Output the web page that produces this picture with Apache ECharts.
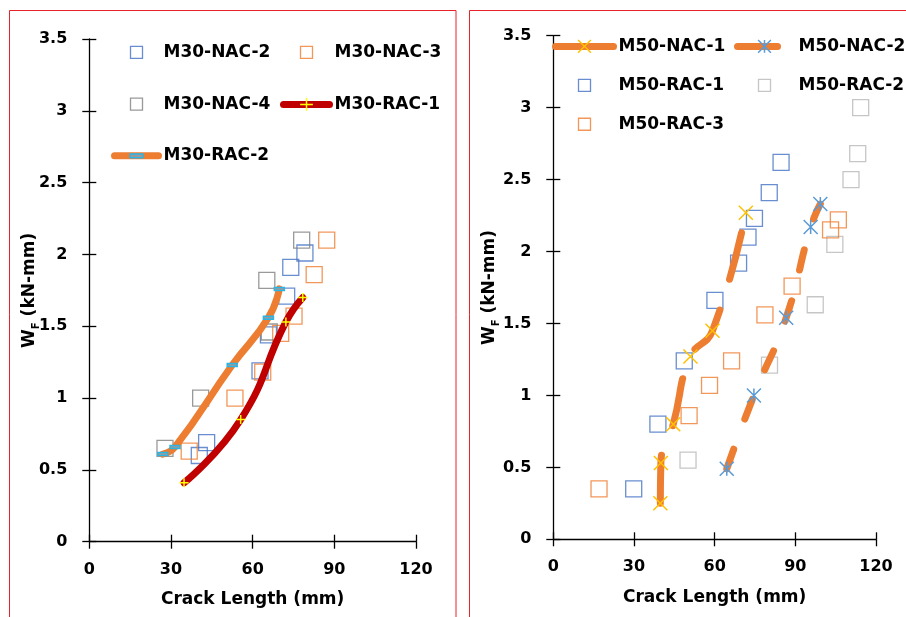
<!DOCTYPE html>
<html>
<head>
<meta charset="utf-8">
<script src="https://cdn.jsdelivr.net/npm/echarts@6/dist/echarts.min.js"></script>
<style>
  html, body { margin: 0; padding: 0; background: #fff; }
  #chart { width: 906px; height: 617px; }
</style>
</head>
<body>
<div id="chart"></div>
<script>
// axis ranges / ticks
const xMax = 120, xStep = 30
const yMax = 3.5, yStep = 0.5

// M30 panel (left) : [crack length mm, W_F kN-mm]
const m30Nac2 = [[40.4,0.60],[43.1,0.69],[62.7,1.19],[65.8,1.44],[72.5,1.71],[74.0,1.91],[79.2,2.01]]
const m30Nac3 = [[36.7,0.63],[53.5,1.00],[63.7,1.18],[70.3,1.45],[75.2,1.57],[82.6,1.86],[87.2,2.10]]
const m30Nac4 = [[27.8,0.65],[40.9,1.00],[65.2,1.82],[66.1,1.46],[78.0,2.10]]
const m30Rac1 = [[34.8,0.41],[55.6,0.85],[72.2,1.53],[78.4,1.70]]
const m30Rac2 = [[27.0,0.61],[31.5,0.66],[52.5,1.23],[65.8,1.56],[69.8,1.76]]

// M50 panel (right)
const m50Nac1 = [[39.8,0.25],[40.0,0.53],[44.6,0.80],[51.0,1.27],[59.2,1.45],[71.6,2.27]]
const m50Nac2 = [[64.5,0.49],[74.6,1.00],[86.6,1.54],[95.7,2.17],[99.3,2.33]]
const m50Rac1 = [[29.9,0.35],[38.9,0.80],[48.7,1.24],[60.1,1.66],[68.9,1.92],[72.4,2.10],[74.8,2.23],[80.3,2.41],[84.7,2.62]]
const m50Rac2 = [[50.1,0.55],[80.4,1.21],[97.4,1.63],[104.7,2.05],[110.7,2.50],[113.2,2.68],[114.3,3.00]]
const m50Rac3 = [[17.0,0.35],[50.5,0.86],[58.1,1.07],[66.3,1.24],[78.7,1.56],[88.8,1.76],[103.1,2.15],[106.0,2.22]]

const FONT = 'DejaVu Sans'
const BLUE = '#4472c4', ORANGE = '#ed7d31', DARKRED = '#c00000'
const GRAY_D = '#808080', GRAY_L = '#b8b8b8'

const squareIcon = 'path://M0,0M16,16M2,2h12v12h-12z'
const plusSym = 'path://M0,5L10,5M5,0L5,10'
const crossSym = 'path://M0,0L10,10M10,0L0,10'
const starSym = 'path://M0,0L10,10M10,0L0,10M5,0L5,10'
// flat dash marker, padded to a square box so the legend keeps it thin
const dashSym = 'path://M0,-3.5M10,6.5M0,0h10v3h-10z'

const boldText = { fontFamily: FONT, fontWeight: 'bold', color: '#000' }
const blackLine = { color: '#000', width: 1.3 }

function xAxes(g, gap) {
  return [
    {
      type: 'value', gridIndex: g, position: 'bottom', min: 0, max: xMax, interval: xStep,
      name: 'Crack Length (mm)', nameLocation: 'middle', nameGap: gap, nameMoveOverlap: false,
      nameTextStyle: Object.assign({ fontSize: 17 }, boldText),
      axisLine: { onZero: false, lineStyle: blackLine },
      axisTick: { length: 7, lineStyle: blackLine },
      axisLabel: Object.assign({ margin: 20, fontSize: 16 }, boldText),
      splitLine: { show: false }
    },
    {
      // inner half of the crossing ticks
      type: 'value', gridIndex: g, position: 'bottom', min: 0, max: xMax, interval: xStep,
      axisLine: { show: false },
      axisTick: { inside: true, length: 7, lineStyle: blackLine },
      axisLabel: { show: false },
      splitLine: { show: false }
    }
  ]
}

function yAxes(g, gap) {
  return [
    {
      type: 'value', gridIndex: g, position: 'left', min: 0, max: yMax, interval: yStep,
      name: '{a|W}{b|F}{a| (kN-mm)}', nameLocation: 'middle', nameRotate: 90, nameGap: gap,
      nameMoveOverlap: false,
      nameTextStyle: {
        rich: {
          a: Object.assign({ fontSize: 17 }, boldText),
          b: Object.assign({ fontSize: 10, verticalAlign: 'bottom', padding: [0, 0, -3, 0] }, boldText)
        }
      },
      axisLine: { onZero: false, lineStyle: blackLine },
      axisTick: { length: 7, lineStyle: blackLine },
      axisLabel: Object.assign({ margin: 22, fontSize: 16 }, boldText),
      splitLine: { show: false }
    },
    {
      type: 'value', gridIndex: g, position: 'left', min: 0, max: yMax, interval: yStep,
      axisLine: { show: false },
      axisTick: { inside: true, length: 7, lineStyle: blackLine },
      axisLabel: { show: false },
      splitLine: { show: false }
    }
  ]
}

function squares(name, data, color, axis) {
  return {
    name: name, type: 'scatter', data: data, xAxisIndex: axis, yAxisIndex: axis,
    symbol: 'rect', symbolSize: 16,
    itemStyle: { color: 'rgba(0,0,0,0)', borderColor: color, borderWidth: 1.3 },
    emphasis: { disabled: true }
  }
}

function curve(name, data, lineColor, dash, sym, symSize, symFill, symStroke, axis) {
  return {
    name: name, type: 'line', data: data, xAxisIndex: axis, yAxisIndex: axis,
    smooth: 0.5,
    lineStyle: { color: lineColor, width: 7, cap: 'round', type: dash },
    symbol: sym, symbolSize: symSize,
    itemStyle: { color: symFill, borderColor: symStroke, borderWidth: 1.5 },
    emphasis: { disabled: true }
  }
}

function sqItem(name, color) {
  return { name: name, icon: squareIcon, itemStyle: { color: 'rgba(0,0,0,0)', borderColor: color, borderWidth: 1.3 } }
}

const legendBase = {
  orient: 'vertical', padding: 0, itemHeight: 16, selectedMode: false,
  textStyle: Object.assign({ fontSize: 17, lineHeight: 16 }, boldText),
  lineStyle: { width: 7, cap: 'round' },
  itemStyle: { borderWidth: 1.5 }
}

const option = {
  animation: false,
  backgroundColor: '#fff',
  graphic: [
    { type: 'rect', silent: true, shape: { x: 9.5, y: 10.5, width: 446.5, height: 700 }, style: { fill: 'none', stroke: '#e8222a', lineWidth: 1 } },
    { type: 'rect', silent: true, shape: { x: 469.5, y: 10.5, width: 600, height: 700 }, style: { fill: 'none', stroke: '#e8222a', lineWidth: 1 } }
  ],
  grid: [
    { left: 89.3, top: 39, width: 326.7, height: 502.7 },
    { left: 553.3, top: 35.7, width: 322.7, height: 503.6 }
  ],
  xAxis: xAxes(0, 49).concat(xAxes(1, 50)),
  yAxis: yAxes(0, 51).concat(yAxes(1, 55)),
  legend: [
    Object.assign({}, legendBase, {
      left: 111, top: 43.7, itemWidth: 44, itemGap: 34.5,
      data: [sqItem('M30-NAC-2', BLUE), sqItem('M30-NAC-4', GRAY_D), { name: 'M30-RAC-2' }]
    }),
    Object.assign({}, legendBase, {
      left: 280, top: 43.7, itemWidth: 46, itemGap: 34.5,
      data: [sqItem('M30-NAC-3', ORANGE), { name: 'M30-RAC-1' }]
    }),
    Object.assign({}, legendBase, {
      left: 552, top: 37.5, itemWidth: 58, itemGap: 21.5,
      data: [{ name: 'M50-NAC-1', lineStyle: { type: 'solid' } }, sqItem('M50-RAC-1', BLUE), sqItem('M50-RAC-3', ORANGE)]
    }),
    Object.assign({}, legendBase, {
      left: 734, top: 37.5, itemWidth: 54, itemGap: 21.5,
      textStyle: Object.assign({ fontSize: 17, lineHeight: 16, padding: [0, 0, 0, 2] }, boldText),
      data: [{ name: 'M50-NAC-2', lineStyle: { type: [40, 14] } }, sqItem('M50-RAC-2', GRAY_L)]
    })
  ],
  series: [
    squares('M30-NAC-2', m30Nac2, BLUE, 0),
    squares('M30-NAC-3', m30Nac3, ORANGE, 0),
    squares('M30-NAC-4', m30Nac4, GRAY_D, 0),
    curve('M30-RAC-1', m30Rac1, DARKRED, 'solid', plusSym, 9, 'none', '#ffff00', 0),
    curve('M30-RAC-2', m30Rac2, ORANGE, 'solid', dashSym, 10, '#9a9a9a', '#29b6e6', 0),

    curve('M50-NAC-1', m50Nac1, ORANGE, [48, 32], crossSym, 14, 'none', '#ffc000', 2),
    curve('M50-NAC-2', m50Nac2, ORANGE, [21, 32], starSym, 14, 'none', '#5b9bd5', 2),
    squares('M50-RAC-1', m50Rac1, BLUE, 2),
    squares('M50-RAC-2', m50Rac2, GRAY_L, 2),
    squares('M50-RAC-3', m50Rac3, ORANGE, 2)
  ]
}

const chart = echarts.init(document.getElementById('chart'))
chart.setOption(option)
</script>
</body>
</html>
